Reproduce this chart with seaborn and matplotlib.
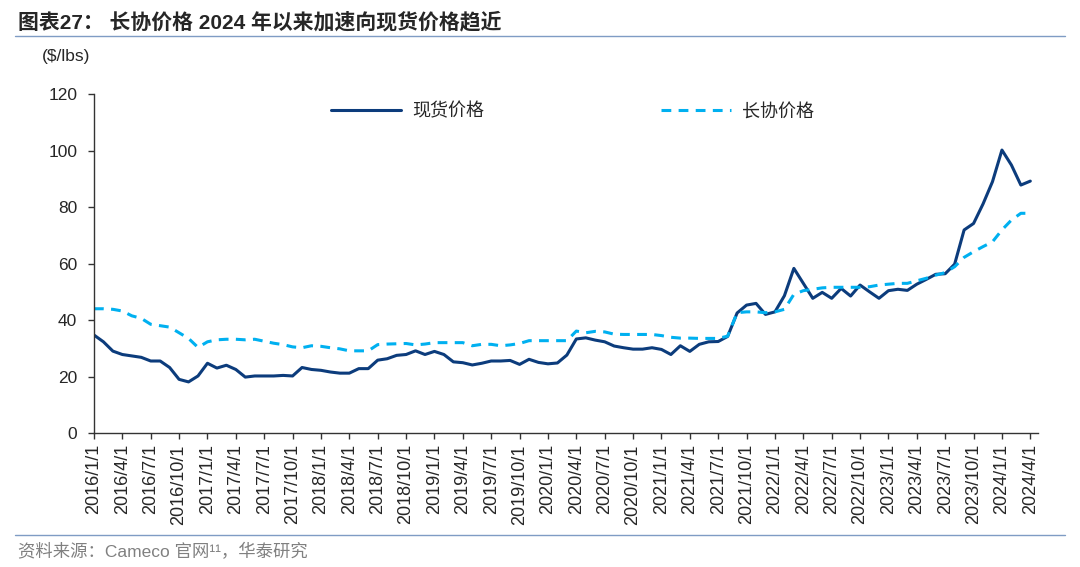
import pandas as pd
import matplotlib.pyplot as plt
import seaborn as sns

# monthly data 2016/1 - 2024/4 ($/lbs)
spot = [34.7, 32.3, 29.0, 27.8, 27.3, 26.8, 25.5, 25.5, 23.2, 19.0, 18.1, 20.2,
        24.7, 23.0, 24.0, 22.5, 19.8, 20.2, 20.2, 20.2, 20.4, 20.2, 23.2, 22.5,
        22.2, 21.6, 21.2, 21.2, 22.8, 22.8, 25.8, 26.3, 27.5, 27.8, 29.1, 27.8,
        28.9, 27.8, 25.2, 24.9, 24.1, 24.7, 25.5, 25.5, 25.7, 24.3, 26.1, 25.0,
        24.5, 24.8, 27.6, 33.3, 33.7, 32.9, 32.3, 30.8, 30.2, 29.7, 29.7, 30.2,
        29.6, 27.8, 30.9, 28.9, 31.4, 32.3, 32.4, 34.2, 42.5, 45.3, 45.9, 42.0,
        42.9, 48.6, 58.3, 53.0, 47.7, 49.8, 47.7, 51.2, 48.5, 52.4, 50.0, 47.7,
        50.4, 50.9, 50.5, 52.7, 54.4, 56.2, 56.4, 59.8, 71.9, 74.2, 81.1, 89.0,
        100.2, 94.9, 87.8, 89.2]
long_term = [44.0, 44.0, 43.8, 43.2, 41.5, 40.6, 38.5, 38.0, 37.5, 35.5, 33.5, 30.3,
             32.3, 33.0, 33.2, 33.2, 33.0, 33.2, 32.5, 31.8, 31.3, 30.5, 30.2, 30.9,
             30.7, 30.2, 29.8, 29.1, 29.1, 29.1, 31.3, 31.5, 31.6, 31.7, 31.2, 31.5,
             32.0, 32.0, 32.0, 32.0, 30.9, 31.4, 31.4, 30.9, 31.2, 31.7, 32.7, 32.7,
             32.7, 32.7, 32.7, 36.1, 35.5, 36.0, 35.8, 35.0, 34.9, 34.9, 34.9, 34.9,
             34.5, 33.9, 33.6, 33.6, 33.5, 33.5, 33.5, 34.3, 42.6, 42.9, 42.9, 42.6,
             42.9, 43.8, 49.1, 50.4, 50.9, 51.4, 51.6, 51.6, 51.6, 51.6, 51.8, 52.4,
             52.7, 53.0, 53.0, 53.9, 54.8, 55.9, 56.8, 58.9, 62.2, 64.2, 66.0, 67.7,
             71.9, 75.4, 77.8, 77.8]
dates = pd.date_range('2016-01-01', periods=len(spot), freq='MS')
tick_labels = [f'{d.year}/{d.month}/1' for d in dates[::3]]

df = pd.DataFrame({'idx': range(len(spot)), 'spot': spot, 'lt': long_term})

sns.set_style('ticks')
plt.rcParams['font.family'] = ['Liberation Sans', 'Noto Sans CJK SC', 'DejaVu Sans']

dark = '#0c3c7c'
light = '#00b0f0'

fig = plt.figure(figsize=(10.8, 5.67), dpi=100)
ax = fig.add_axes([0.087, 0.2363, 0.874, 0.5977])

sns.lineplot(data=df, x='idx', y='spot', ax=ax, color=dark, lw=2.2, label='现货价格')
sns.lineplot(data=df, x='idx', y='lt', ax=ax, color=light, lw=2.2, label='长协价格')
ax.lines[1].set_dashes((3.2, 2.4))

ax.set_xlim(0, 99.8)
ax.set_ylim(0, 120)
ax.set_yticks(range(0, 121, 20))
ax.set_xticks(df['idx'][::3])
ax.set_xticklabels(tick_labels, rotation=90, fontsize=13)
ax.tick_params(axis='y', labelsize=12.5, length=4, width=1, color='#333333', pad=8)
ax.tick_params(axis='x', length=4, width=1, color='#333333', pad=4)
ax.set_xlabel('')
ax.set_ylabel('')
sns.despine(ax=ax)
for s in ['left', 'bottom']:
    ax.spines[s].set_color('#333333')
    ax.spines[s].set_linewidth(1)

leg = ax.legend(loc='upper center', bbox_to_anchor=(0.507, 1.024), ncol=2, frameon=False,
                handlelength=3.9, handletextpad=0.6, columnspacing=9.8,
                prop={'family': ['Noto Sans CJK SC'], 'size': 13})

fig.text(0.039, 0.9, '($/lbs)', fontsize=12.5, va='center', ha='left')

fig.text(0.017, 0.962, '图表27： 长协价格 2024 年以来加速向现货价格趋近', fontsize=15,
         fontweight='bold', va='center', ha='left')
fig.add_artist(plt.Line2D([0.014, 0.986], [0.937, 0.937], color='#7f9cc4', lw=1))
fig.add_artist(plt.Line2D([0.014, 0.986], [0.057, 0.057], color='#7f9cc4', lw=1))
fig.text(0.017, 0.028, '资料来源：Cameco 官网¹¹，华泰研究', fontsize=12.5,
         color='#808080', va='center', ha='left')

plt.savefig('out.png', dpi=100)
